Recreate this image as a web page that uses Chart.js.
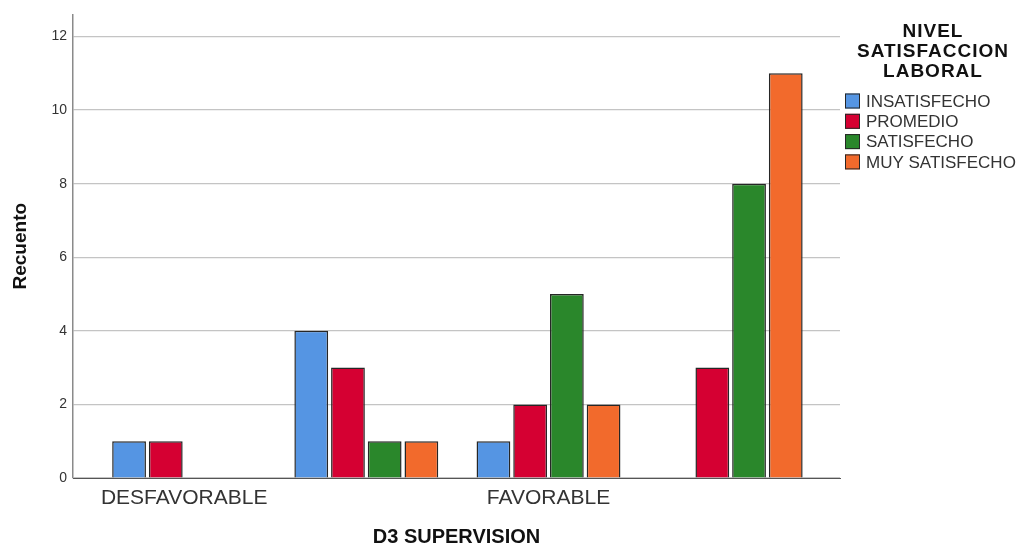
<!DOCTYPE html>
<html>
<head>
<meta charset="utf-8">
<title>D3 SUPERVISION - Recuento</title>
<style>
    body {
        margin: 0;
        background-color: #ffffff;
    }

    .chart-box {
        width: 1026px;
        height: 548px;
    }
</style>
</head>
<body>
<div class="chart-box">
    <canvas id="barChart"></canvas>
</div>

<script src="https://cdn.jsdelivr.net/npm/chart.js"></script>
<script>
    // Data
    const categories = ['DESFAVORABLE', '', 'FAVORABLE', ''];
    const seriesNames = ['INSATISFECHO', 'PROMEDIO', 'SATISFECHO', 'MUY SATISFECHO'];
    const insatisfecho = [1, 4, 1, 0];
    const promedio = [1, 3, 2, 3];
    const satisfecho = [0, 1, 5, 8];
    const muySatisfecho = [0, 1, 2, 11];
    const yTicks = [0, 2, 4, 6, 8, 10, 12];
    const legendTitle = ['NIVEL', 'SATISFACCION', 'LABORAL'];

    const colors = ['#5595e3', '#d50032', '#2a872b', '#f26a2c'];
    const fontFamily = '"Liberation Sans", Arial, sans-serif';

    // x is a linear scale so the axis can run a little past the outer groups
    function toPoints(values) {
        return values.map((v, i) => ({ x: i, y: v }));
    }

    const allSeries = [insatisfecho, promedio, satisfecho, muySatisfecho];
    const datasets = allSeries.map((values, i) => ({
        label: seriesNames[i],
        data: toPoints(values),
        backgroundColor: colors[i],
        borderColor: '#262626',
        borderWidth: ctx => (ctx.raw && ctx.raw.y === 0 ? 0 : 1.5),
        categoryPercentage: 0.806,
        barPercentage: 0.92
    }));

    // Legend on the right, with a three line title
    const sideLegend = {
        id: 'sideLegend',
        afterDraw(chart) {
            const ctx = chart.ctx;
            const left = chart.chartArea.right + 5;
            ctx.save();
            ctx.fillStyle = '#111111';
            ctx.textAlign = 'center';
            ctx.textBaseline = 'middle';
            ctx.font = 'bold 19px ' + fontFamily;
            ctx.letterSpacing = '1px';
            legendTitle.forEach((line, i) => {
                ctx.fillText(line, left + 88, 32 + i * 20);
            });
            ctx.letterSpacing = '0px';

            ctx.textAlign = 'left';
            ctx.font = '17px ' + fontFamily;
            chart.data.datasets.forEach((ds, i) => {
                const y = 101 + i * 20.3;
                ctx.fillStyle = ds.backgroundColor;
                ctx.fillRect(left, y - 7.5, 15, 15);
                ctx.strokeStyle = '#262626';
                ctx.lineWidth = 1;
                ctx.strokeRect(left + 0.5, y - 7, 14, 14);
                ctx.fillStyle = '#333333';
                ctx.fillText(ds.label, left + 21, y + 1);
            });
            ctx.restore();
        }
    };

    new Chart(document.getElementById('barChart'), {
        type: 'bar',
        data: { datasets: datasets },
        options: {
            responsive: true,
            maintainAspectRatio: false,
            animation: false,
            layout: {
                padding: { top: 14, right: 186, left: 0, bottom: 0 }
            },
            plugins: {
                legend: { display: false },
                tooltip: { enabled: false }
            },
            scales: {
                x: {
                    type: 'linear',
                    min: -0.61,
                    max: 3.6,
                    offset: false,
                    grid: { display: false, drawTicks: false, offset: false },
                    border: { color: '#555555', width: 1 },
                    afterBuildTicks: axis => {
                        axis.ticks = categories.map((c, i) => ({ value: i }));
                    },
                    afterFit: scale => {
                        scale.height = 70;
                    },
                    ticks: {
                        autoSkip: false,
                        maxRotation: 0,
                        padding: 8,
                        color: '#333333',
                        font: { family: fontFamily, size: 21 },
                        callback: v => categories[v] ?? ''
                    },
                    title: {
                        display: true,
                        text: 'D3 SUPERVISION',
                        color: '#111111',
                        padding: { top: 0, bottom: -1 },
                        font: { family: fontFamily, size: 20, weight: 'bold' }
                    }
                },
                y: {
                    min: 0,
                    max: 12.6,
                    grid: { color: '#c4c4c4', lineWidth: 1.2, drawTicks: false },
                    border: { color: '#8a8a8a', width: 1.5 },
                    afterBuildTicks: axis => {
                        axis.ticks = yTicks.map(v => ({ value: v }));
                    },
                    afterFit: scale => {
                        scale.width = 73;
                    },
                    ticks: {
                        padding: 6,
                        color: '#333333',
                        font: { family: fontFamily, size: 14 }
                    },
                    title: {
                        display: true,
                        text: 'Recuento',
                        color: '#111111',
                        padding: { top: 9, bottom: 0 },
                        font: { family: fontFamily, size: 19, weight: 'bold' }
                    }
                }
            }
        },
        plugins: [sideLegend]
    });
</script>
</body>
</html>
